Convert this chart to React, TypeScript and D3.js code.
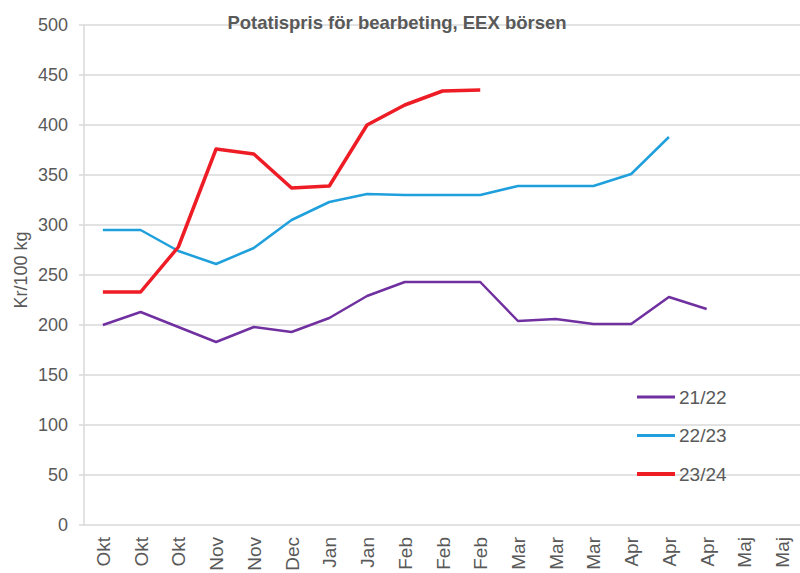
import React, { useEffect, useRef } from 'react';
import * as d3 from 'd3';

const months = ['Okt', 'Okt', 'Okt', 'Nov', 'Nov', 'Dec', 'Jan', 'Jan', 'Feb', 'Feb', 'Feb',
    'Mar', 'Mar', 'Mar', 'Apr', 'Apr', 'Apr', 'Maj', 'Maj'];

const s2122 = [200, 213, 198, 183, 198, 193, 207, 229, 243, 243, 243, 204, 206, 201, 201, 228, 216];
const s2223 = [295, 295, 274, 261, 277, 305, 323, 331, 330, 330, 330, 339, 339, 339, 351, 388];
const s2324 = [233, 233, 278, 376, 371, 337, 339, 400, 420, 434, 435];

const yTicks = [0, 50, 100, 150, 200, 250, 300, 350, 400, 450, 500];

const seriesNames = ['21/22', '22/23', '23/24'];
const seriesColors = ['#7030a0', '#1fa0dc', '#ee1c25'];
const seriesWidths = [2.5, 2.5, 3.5];

const title = 'Potatispris för bearbeting, EEX börsen';
const yLabel = 'Kr/100 kg';

export default function App() {
    const ref = useRef<SVGSVGElement>(null);

    useEffect(() => {
        document.body.style.margin = '0';

        const width = 800,
            height = 573,
            left = 84,
            right = 801,
            top = 25,
            bottom = 525;
        const font = '"Liberation Sans", Arial, sans-serif';
        const textColor = '#595959';
        const gridColor = '#d9d9d9';

        const svg = d3.select(ref.current);
        svg.selectAll('*').remove();
        svg.attr('width', width).attr('height', height);

        const x = d3.scaleBand<number>()
            .domain(months.map((_, i) => i))
            .range([left, right])
            .paddingInner(0)
            .paddingOuter(0);
        const cx = (i: number) => (x(i) as number) + x.bandwidth() / 2;

        const y = d3.scaleLinear()
            .domain([0, 500])
            .range([bottom, top]);

        // gridlines + y tick labels
        const yg = svg.append('g');
        yg.selectAll('line.grid')
            .data(yTicks.filter(d => d > 0))
            .enter().append('line')
            .attr('x1', left - 5)
            .attr('x2', width)
            .attr('y1', d => y(d))
            .attr('y2', d => y(d))
            .attr('stroke', gridColor)
            .attr('stroke-width', 1.5);

        yg.selectAll('text')
            .data(yTicks)
            .enter().append('text')
            .attr('x', 68)
            .attr('y', d => y(d))
            .attr('dy', '0.35em')
            .attr('text-anchor', 'end')
            .attr('font-family', font)
            .attr('font-size', 18)
            .attr('fill', textColor)
            .text(d => d);

        // axes
        svg.append('line')
            .attr('x1', left).attr('x2', left)
            .attr('y1', top).attr('y2', bottom)
            .attr('stroke', gridColor).attr('stroke-width', 1.5);
        svg.append('line')
            .attr('x1', left - 5).attr('x2', width)
            .attr('y1', bottom).attr('y2', bottom)
            .attr('stroke', gridColor).attr('stroke-width', 1.5);

        // x labels
        svg.append('g').selectAll('text')
            .data(months)
            .enter().append('text')
            .attr('transform', (_, i) => 'translate(' + (cx(i) + 7) + ',' + (bottom + 12) + ') rotate(-90)')
            .attr('text-anchor', 'end')
            .attr('font-family', font)
            .attr('font-size', 19)
            .attr('fill', textColor)
            .text(d => d);

        // lines
        const line = d3.line<number>()
            .x((_, i) => cx(i))
            .y(d => y(d));

        [s2122, s2223, s2324].forEach((data, k) => {
            svg.append('path')
                .datum(data)
                .attr('d', line)
                .attr('fill', 'none')
                .attr('stroke', seriesColors[k])
                .attr('stroke-width', seriesWidths[k])
                .attr('stroke-linejoin', 'round');
        });

        // legend
        const lg = svg.append('g');
        seriesNames.forEach((name, k) => {
            const ly = 397 + k * 38.5;
            lg.append('line')
                .attr('x1', 637).attr('x2', 675)
                .attr('y1', ly).attr('y2', ly)
                .attr('stroke', seriesColors[k])
                .attr('stroke-width', seriesWidths[k] + 0.5);
            lg.append('text')
                .attr('x', 679)
                .attr('y', ly)
                .attr('dy', '0.35em')
                .attr('font-family', font)
                .attr('font-size', 19)
                .attr('fill', textColor)
                .text(name);
        });

        // y axis title
        svg.append('text')
            .attr('transform', 'translate(27,270) rotate(-90)')
            .attr('text-anchor', 'middle')
            .attr('font-family', font)
            .attr('font-size', 18)
            .attr('fill', textColor)
            .text(yLabel);

        // chart title
        svg.append('text')
            .attr('x', 397)
            .attr('y', 29)
            .attr('text-anchor', 'middle')
            .attr('font-family', font)
            .attr('font-size', 18.5)
            .attr('font-weight', 'bold')
            .attr('fill', textColor)
            .text(title);
    }, []);

    return <svg ref={ref} style={{ display: 'block' }} />;
}
